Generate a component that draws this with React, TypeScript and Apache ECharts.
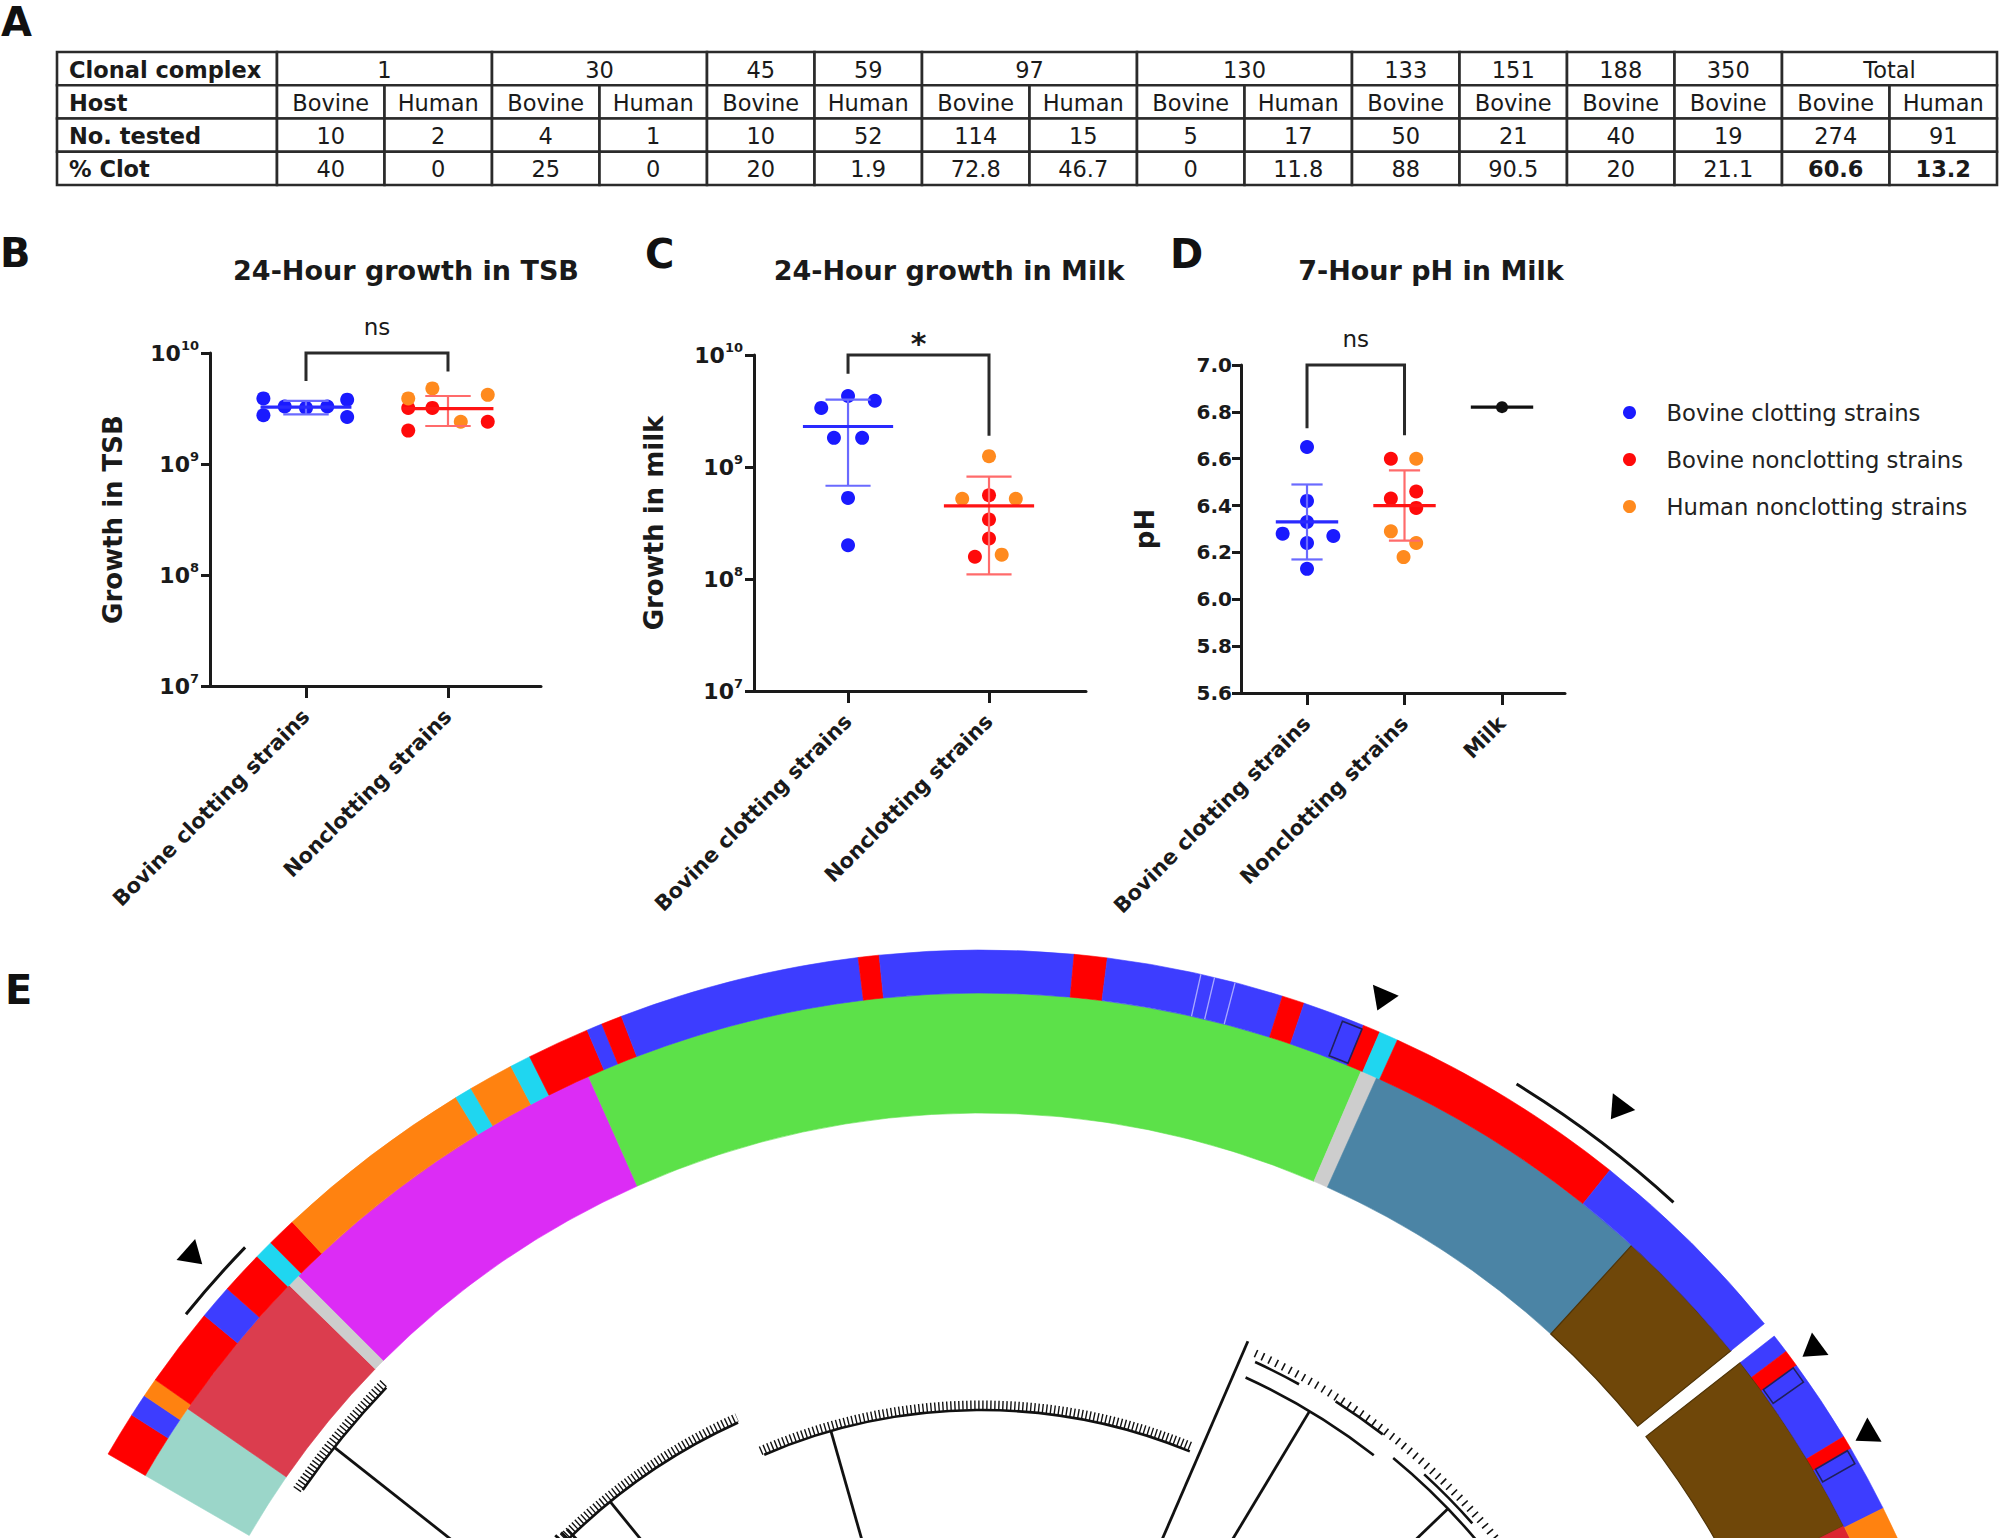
import React, { useEffect, useRef } from 'react';
import * as echarts from 'echarts';

const FONT = 'DejaVu Sans';
const INK = '#1a1a1a';

// ---------------- Panel A: table ----------------
const tableRowLabels = ['Clonal complex', 'Host', 'No. tested', '% Clot'];
const clonalComplexes = ['1', '30', '45', '59', '97', '130', '133', '151', '188', '350', 'Total'];
const clonalComplexSpans = [2, 2, 1, 1, 2, 2, 1, 1, 1, 1, 2];
const hosts = ['Bovine', 'Human', 'Bovine', 'Human', 'Bovine', 'Human', 'Bovine', 'Human', 'Bovine', 'Human', 'Bovine', 'Bovine', 'Bovine', 'Bovine', 'Bovine', 'Human'];
const numberTested = [10, 2, 4, 1, 10, 52, 114, 15, 5, 17, 50, 21, 40, 19, 274, 91];
const percentClot = [40, 0, 25, 0, 20, 1.9, 72.8, 46.7, 0, 11.8, 88, 90.5, 20, 21.1, 60.6, 13.2];
const boldClotColumns = [14, 15];

// ---------------- Panels B-D ----------------
const groupNames = ['Bovine clotting strains', 'Bovine nonclotting strains', 'Human nonclotting strains'];
const strainCategories = ['Bovine clotting strains', 'Nonclotting strains'];
const phCategories = ['Bovine clotting strains', 'Nonclotting strains', 'Milk'];
const panelTitles = ['24-Hour growth in TSB', '24-Hour growth in Milk', '7-Hour pH in Milk'];
const yAxisNames = ['Growth in TSB', 'Growth in milk', 'pH'];

// B: 24-h growth in TSB
const tsbClottingX = [0.70, 0.70, 0.85, 1.0, 1.15, 1.29, 1.29];
const tsbClotting = [3.9e9, 2.75e9, 3.3e9, 3.2e9, 3.3e9, 3.8e9, 2.65e9];
const tsbBovineNonX = [1.72, 1.72, 1.89, 2.28];
const tsbBovineNon = [3.2e9, 2.0e9, 3.2e9, 2.4e9];
const tsbHumanNonX = [1.72, 1.89, 2.09, 2.28];
const tsbHumanNon = [3.9e9, 4.8e9, 2.4e9, 4.2e9];
const tsbMean = [3.25e9, 3.15e9];
const tsbLow = [2.8e9, 2.2e9];
const tsbHigh = [3.7e9, 4.1e9];

// C: 24-h growth in milk
const milkClottingX = [0.81, 1.0, 1.19, 0.90, 1.10, 1.0, 1.0];
const milkClotting = [3.37e9, 4.3e9, 3.9e9, 1.82e9, 1.82e9, 5.3e8, 2.0e8];
const milkBovineNonX = [2.0, 2.0, 2.0, 1.90];
const milkBovineNon = [5.6e8, 3.4e8, 2.3e8, 1.58e8];
const milkHumanNonX = [2.0, 1.81, 2.19, 2.09];
const milkHumanNon = [1.25e9, 5.2e8, 5.2e8, 1.65e8];
const milkMean = [2.3e9, 4.5e8];
const milkLow = [6.8e8, 1.1e8];
const milkHigh = [4.0e9, 8.2e8];

// D: 7-h pH in milk
const phClottingX = [1.0, 1.0, 0.75, 1.27, 1.0, 1.0, 1.0];
const phClotting = [6.65, 6.42, 6.28, 6.27, 6.33, 6.24, 6.13];
const phBovineNonX = [1.86, 1.86, 2.12, 2.12];
const phBovineNon = [6.60, 6.43, 6.46, 6.39];
const phHumanNonX = [2.12, 1.86, 2.12, 1.99];
const phHumanNon = [6.60, 6.29, 6.24, 6.18];
const phMilk = [6.82];
const phMean = [6.33, 6.40, 6.82];
const phLow = [6.17, 6.25, 6.82];
const phHigh = [6.49, 6.55, 6.82];

// significance brackets: [x1, top, x2, leftEnd, rightEnd]
const tsbBracket = [1, 1e10, 2, 5.6e9, 6.8e9];
const milkBracket = [1, 9.98e9, 2, 6.8e9, 1.9e9];
const phBracket = [1, 7.0, 2, 6.73, 6.70];
const bracketLabels = ['ns', '*', 'ns'];

// ---------------- Panel E: phylogeny ring ----------------
const cladeBoundaries = [150, 145.3, 135.8, 135.0, 114.0, 66.8, 65.8, 47.6, 39.0, 38.1, 26.6, 10];
const cladeIds = ['L1', 'L2', 'NA', 'L3', 'L4', 'NA', 'L5', 'L6', 'gap', 'L6', 'L7'];
const phenotypeBoundaries = [150, 147.4, 146.1, 145.0, 140.4, 138.4, 135.9, 134.8, 133.1, 121.4, 120.4, 117.8, 116.6, 113.0, 112.1, 110.9, 97.0, 95.8, 84.7, 82.8, 72.6, 71.3, 67.7, 66.7, 65.6, 51.4, 39.0, 38.1, 37.0, 36.0, 31.15, 30.35, 26.5, 10];
const phenotypes = ['BN', 'BC', 'HN', 'BN', 'BC', 'BN', 'HC', 'BN', 'HN', 'HC', 'HN', 'HC', 'BN', 'BC', 'BN', 'BC', 'BN', 'BC', 'BN', 'BC', 'BN', 'BC', 'BN', 'HC', 'BN', 'BC', 'gap', 'BC', 'BN', 'BC', 'BN', 'BC', 'HN'];
const phenotypeFaintLines = [77.4, 76.6, 75.4];
const outlinedCellStart = [68.9, 36.0, 30.35];
const outlinedCellEnd = [67.7, 35.0, 29.5];
const markerRadius = [1054, 1038, 1060, 1029, 1027];
const markerAngle = [138.3, 67.3, 53.1, 36.2, 30.6];
const markedArcStart = [141.0, 58.5];
const markedArcEnd = [136.0, 47.5];
const treeBranchAngles = [141.7, 135.2, 134.6, 134.0, 129.1, 105.9, 66.6, 59.0, 43.9];
const treeBranchTips = [824, 600, 598, 596, 588, 548, 672, 638, 648];
const treeLinkRadius = [824, 588, 548, 638, 648, 656, 660, 656];
const treeLinkStart = [145.4, 135.6, 113.3, 65.5, 50.5, 65.3, 57.5, 47.5];
const treeLinkEnd = [136.2, 114.4, 67.6, 52.0, 36.0, 61.0, 52.5, 41.5];
const treeLeafRadius = [829, 593, 553];
const treeLeafStart = [145.6, 135.6, 113.5];
const treeLeafEnd = [136.0, 114.3, 67.5];
const treeSparseLeafRadius = [664];
const treeSparseLeafStart = [65.6];
const treeSparseLeafEnd = [36.0];

// ---------------- styles ----------------
const GROUP_COLORS = ['#1a1aff', '#ff0a0a', '#ff8a1e'];
const MEAN_COLORS = ['#2a2aff', '#ff1414', '#111111'];
const SD_COLORS = ['#6a6aff', '#ff6b6b', '#111111'];
const CLADE_COLORS: Record<string, string> = {
  L1: '#9bd6c9', L2: '#db3d4e', NA: '#cdcdcd', L3: '#dc2cf5', L4: '#5ce149',
  L5: '#4b84a5', L6: '#6f4709', L7: '#dc2630',
};
const PHENO_COLORS: Record<string, string> = { BN: '#ff0000', BC: '#3d3dff', HN: '#ff8210', HC: '#1fd6f0' };
const INNER_R0 = 845;
const INNER_R1 = 965;
const OUTER_R1 = 1008;
const TREE_BASE_R = 250;

function buildOption() {
  // ---- table cells
  const LABEL_COL = -220 / 107.5;
  const cells: any[] = [];
  tableRowLabels.forEach((t, r) => cells.push({ x0: LABEL_COL, x1: 0, row: r, text: t, bold: true, left: true }));
  let c = 0;
  clonalComplexes.forEach((cc, i) => {
    cells.push({ x0: c, x1: c + clonalComplexSpans[i], row: 0, text: cc });
    c += clonalComplexSpans[i];
  });
  hosts.forEach((h, i) => cells.push({ x0: i, x1: i + 1, row: 1, text: h }));
  numberTested.forEach((n, i) => cells.push({ x0: i, x1: i + 1, row: 2, text: String(n) }));
  percentClot.forEach((p, i) => cells.push({ x0: i, x1: i + 1, row: 3, text: String(p), bold: boldClotColumns.includes(i) }));

  const tableSeries = {
    type: 'custom', xAxisIndex: 0, yAxisIndex: 0, silent: true,
    data: cells.map((cl) => [cl.x0, cl.row, cl.x1]),
    renderItem: (params: any, api: any) => {
      const cl = cells[params.dataIndex];
      const p0 = api.coord([cl.x0, cl.row]);
      const p1 = api.coord([cl.x1, cl.row + 1]);
      return {
        type: 'group',
        children: [
          { type: 'rect', shape: { x: p0[0], y: p0[1], width: p1[0] - p0[0], height: p1[1] - p0[1] }, style: { fill: '#fff', stroke: '#2b2b2b', lineWidth: 2.6 } },
          {
            type: 'text', x: cl.left ? p0[0] + 12 : (p0[0] + p1[0]) / 2, y: (p0[1] + p1[1]) / 2 + 1,
            style: { text: cl.text, fill: INK, fontSize: 22.5, fontWeight: cl.bold ? 'bold' : 'normal', fontFamily: FONT, align: cl.left ? 'left' : 'center', verticalAlign: 'middle' },
          },
        ],
      };
    },
  };

  // ---- panels
  const gridsLayout = [
    { left: 210, top: 353, width: 331, height: 333, xmin: 0.324, xmax: 2.655 },
    { left: 754, top: 355, width: 332, height: 336, xmin: 0.333, xmax: 2.688 },
    { left: 1241, top: 365, width: 324, height: 328, xmin: 0.323, xmax: 3.646 },
  ];
  const grids: any[] = [{ left: 57, top: 52, width: 1940, height: 133, outerBoundsMode: 'none' }];
  const xAxes: any[] = [{ gridIndex: 0, type: 'value', min: LABEL_COL, max: 16, show: false }];
  const yAxes: any[] = [{ gridIndex: 0, type: 'value', min: 0, max: 4, inverse: true, show: false }];
  const nameGaps = [84, 87, 83];
  gridsLayout.forEach((g, i) => {
    grids.push({ left: g.left, top: g.top, width: g.width, height: g.height, outerBoundsMode: 'none' });
    const cats = i === 2 ? phCategories : strainCategories;
    xAxes.push({
      gridIndex: i + 1, type: 'value', min: g.xmin, max: g.xmax, splitLine: { show: false },
      axisLine: { show: true, onZero: false, lineStyle: { color: INK, width: 3 } },
      axisTick: { show: true, customValues: cats.map((_, k) => k + 1), length: 12, lineStyle: { color: INK, width: 3 } },
      axisLabel: {
        customValues: cats.map((_, k) => k + 1), formatter: (v: number) => cats[Math.round(v) - 1] || '',
        rotate: 45, margin: 27, fontSize: 21, fontWeight: 'bold', fontFamily: FONT, color: INK,
      },
      minorTick: { show: false },
    });
    const common = {
      gridIndex: i + 1, splitLine: { show: false },
      axisLine: { show: true, onZero: false, lineStyle: { color: INK, width: 3 } },
      axisTick: { show: true, length: 9, lineStyle: { color: INK, width: 3 } },
      name: yAxisNames[i], nameLocation: 'middle', nameGap: nameGaps[i],
      nameTextStyle: { fontSize: 26, fontWeight: 'bold', fontFamily: FONT, color: INK },
    };
    if (i < 2) {
      yAxes.push({
        ...common, type: 'log', logBase: 10, min: 1e7, max: 1e10,
        axisLabel: {
          margin: 11,
          formatter: (v: number) => `{b|10}{s|${Math.round(Math.log10(v))}}`,
          rich: {
            b: { fontSize: 22, fontWeight: 'bold', fontFamily: FONT, color: INK, lineHeight: 28 },
            s: { fontSize: 13, fontWeight: 'bold', fontFamily: FONT, color: INK, verticalAlign: 'top', lineHeight: 28 },
          },
        },
      });
    } else {
      yAxes.push({
        ...common, type: 'value', min: 5.6, max: 7.0, interval: 0.2,
        axisLabel: { margin: 9, formatter: (v: number) => v.toFixed(1), fontSize: 20, fontWeight: 'bold', fontFamily: FONT, color: INK },
      });
    }
  });

  const pointSeries = (name: string, xs: number[], ys: number[], idx: number, color: string, size = 14) => ({
    type: 'scatter', name, xAxisIndex: idx, yAxisIndex: idx, silent: true, z: 3,
    data: xs.map((x, k) => [x, ys[k]]), symbol: 'circle', symbolSize: size,
    itemStyle: { color, opacity: 1 },
  });

  const errorBarSeries = (idx: number, means: number[], lows: number[], highs: number[]) => ({
    type: 'custom', xAxisIndex: idx, yAxisIndex: idx, silent: true, z: 4,
    data: means.map((m, k) => [k + 1, m, lows[k], highs[k], k]),
    renderItem: (params: any, api: any) => {
      const x = api.value(0), m = api.value(1), lo = api.value(2), hi = api.value(3), g = api.value(4);
      const MEAN_HALF = 0.32, CAP_HALF = 0.16;
      const children: any[] = [];
      if (hi > lo) {
        const sd = { stroke: SD_COLORS[g], lineWidth: 2.2 };
        const pl = api.coord([x, lo]), ph = api.coord([x, hi]);
        const c1 = api.coord([x - CAP_HALF, lo]), c2 = api.coord([x + CAP_HALF, lo]);
        const c3 = api.coord([x - CAP_HALF, hi]), c4 = api.coord([x + CAP_HALF, hi]);
        children.push({ type: 'line', shape: { x1: pl[0], y1: pl[1], x2: ph[0], y2: ph[1] }, style: sd });
        children.push({ type: 'line', shape: { x1: c1[0], y1: c1[1], x2: c2[0], y2: c2[1] }, style: sd });
        children.push({ type: 'line', shape: { x1: c3[0], y1: c3[1], x2: c4[0], y2: c4[1] }, style: sd });
      }
      const a = api.coord([x - MEAN_HALF, m]), b = api.coord([x + MEAN_HALF, m]);
      children.push({ type: 'line', shape: { x1: a[0], y1: a[1], x2: b[0], y2: b[1] }, style: { stroke: MEAN_COLORS[g], lineWidth: 3.2 } });
      return { type: 'group', children };
    },
  });

  const bracketSeries = (idx: number, br: number[], label: string) => ({
    type: 'custom', xAxisIndex: idx, yAxisIndex: idx, silent: true, z: 4,
    data: [br],
    renderItem: (params: any, api: any) => {
      const lt = api.coord([api.value(0), api.value(1)]);
      const rt = api.coord([api.value(2), api.value(1)]);
      const lb = api.coord([api.value(0), api.value(3)]);
      const rb = api.coord([api.value(2), api.value(4)]);
      const star = label === '*';
      return {
        type: 'group',
        children: [
          { type: 'polyline', shape: { points: [lb, lt, rt, rb] }, style: { stroke: '#2a2a2a', lineWidth: 3, fill: 'none' } },
          {
            type: 'text', x: (lt[0] + rt[0]) / 2, y: lt[1] - (star ? 12 : 26),
            style: { text: label, fill: INK, fontSize: star ? 30 : 23, fontWeight: star ? 'bold' : 'normal', fontFamily: FONT, align: 'center', verticalAlign: 'middle' },
          },
        ],
      };
    },
  });

  // ---- polar helpers
  const polarInfo = (params: any, api: any, r: number, a: number) => {
    const cs = params.coordSys;
    const p = api.coord([r, a]);
    return { cx: cs.cx, cy: cs.cy, R: Math.hypot(p[0] - cs.cx, p[1] - cs.cy), ang: Math.atan2(p[1] - cs.cy, p[0] - cs.cx), p };
  };
  const ringSeries = (bounds: number[], ids: string[], colors: Record<string, string>, r0: number, r1: number, outlined: string[]) => ({
    type: 'custom', coordinateSystem: 'polar', polarIndex: 0, silent: true, z: 2,
    data: ids.map((id, k) => [r0, bounds[k], r1, bounds[k + 1]]),
    renderItem: (params: any, api: any) => {
      const id = ids[params.dataIndex];
      if (id === 'gap') return { type: 'group', children: [] };
      const o1 = polarInfo(params, api, api.value(2), api.value(1));
      const o2 = polarInfo(params, api, api.value(2), api.value(3));
      const i1 = polarInfo(params, api, api.value(0), api.value(1));
      const col = colors[id];
      const dark = outlined.includes(id);
      return {
        type: 'sector',
        shape: { cx: o1.cx, cy: o1.cy, r0: i1.R, r: o1.R, startAngle: o1.ang, endAngle: o2.ang, clockwise: true },
        style: { fill: col, stroke: dark ? '#4e3205' : col, lineWidth: dark ? 1.2 : 0.6 },
      };
    },
  });

  const faintLineSeries = {
    type: 'custom', coordinateSystem: 'polar', polarIndex: 0, silent: true, z: 3,
    data: phenotypeFaintLines.map((a) => [INNER_R1, a, OUTER_R1]),
    renderItem: (params: any, api: any) => {
      const p = api.coord([api.value(0), api.value(1)]);
      const q = api.coord([api.value(2), api.value(1)]);
      return { type: 'line', shape: { x1: p[0], y1: p[1], x2: q[0], y2: q[1] }, style: { stroke: '#a9a9ff', lineWidth: 1.3 } };
    },
  };
  const outlinedCellSeries = {
    type: 'custom', coordinateSystem: 'polar', polarIndex: 0, silent: true, z: 3,
    data: outlinedCellStart.map((a, k) => [INNER_R1, a, OUTER_R1, outlinedCellEnd[k]]),
    renderItem: (params: any, api: any) => {
      const o1 = polarInfo(params, api, api.value(2) - 4, api.value(1));
      const o2 = polarInfo(params, api, api.value(2) - 4, api.value(3));
      const i1 = polarInfo(params, api, api.value(0) + 2, api.value(1));
      return {
        type: 'sector',
        shape: { cx: o1.cx, cy: o1.cy, r0: i1.R, r: o1.R, startAngle: o1.ang, endAngle: o2.ang, clockwise: true },
        style: { fill: 'none', stroke: '#20205a', lineWidth: 1.6 },
      };
    },
  };
  const arcSeries = (radii: number[], starts: number[], ends: number[], lineWidth: number, dash: number[] | null, z = 3) => ({
    type: 'custom', coordinateSystem: 'polar', polarIndex: 0, silent: true, z,
    data: radii.map((r, k) => [r, starts[k], ends[k]]),
    renderItem: (params: any, api: any) => {
      const a = polarInfo(params, api, api.value(0), api.value(1));
      const b = polarInfo(params, api, api.value(0), api.value(2));
      return {
        type: 'arc',
        shape: { cx: a.cx, cy: a.cy, r: a.R, startAngle: a.ang, endAngle: b.ang, clockwise: true },
        style: { stroke: '#111', lineWidth, fill: 'none', lineDash: dash || undefined },
      };
    },
  });
  const branchSeries = {
    type: 'custom', coordinateSystem: 'polar', polarIndex: 0, silent: true, z: 3,
    data: treeBranchAngles.map((a, k) => [TREE_BASE_R, a, treeBranchTips[k]]),
    renderItem: (params: any, api: any) => {
      const p = api.coord([api.value(0), api.value(1)]);
      const q = api.coord([api.value(2), api.value(1)]);
      return { type: 'line', shape: { x1: p[0], y1: p[1], x2: q[0], y2: q[1] }, style: { stroke: '#111', lineWidth: 2.8 } };
    },
  };
  const markerSeries = {
    type: 'scatter', coordinateSystem: 'polar', polarIndex: 0, silent: true, z: 5,
    symbol: 'triangle', symbolSize: [28, 22],
    data: markerRadius.map((r, k) => ({ value: [r, markerAngle[k]], symbolRotate: markerAngle[k] + 90 })),
    itemStyle: { color: '#000', opacity: 1 },
  };

  const series: any[] = [
    tableSeries,
    pointSeries(groupNames[0], tsbClottingX, tsbClotting, 1, GROUP_COLORS[0]),
    pointSeries(groupNames[1], tsbBovineNonX, tsbBovineNon, 1, GROUP_COLORS[1]),
    pointSeries(groupNames[2], tsbHumanNonX, tsbHumanNon, 1, GROUP_COLORS[2]),
    errorBarSeries(1, tsbMean, tsbLow, tsbHigh),
    bracketSeries(1, tsbBracket, bracketLabels[0]),
    pointSeries(groupNames[0], milkClottingX, milkClotting, 2, GROUP_COLORS[0]),
    pointSeries(groupNames[1], milkBovineNonX, milkBovineNon, 2, GROUP_COLORS[1]),
    pointSeries(groupNames[2], milkHumanNonX, milkHumanNon, 2, GROUP_COLORS[2]),
    errorBarSeries(2, milkMean, milkLow, milkHigh),
    bracketSeries(2, milkBracket, bracketLabels[1]),
    pointSeries(groupNames[0], phClottingX, phClotting, 3, GROUP_COLORS[0]),
    pointSeries(groupNames[1], phBovineNonX, phBovineNon, 3, GROUP_COLORS[1]),
    pointSeries(groupNames[2], phHumanNonX, phHumanNon, 3, GROUP_COLORS[2]),
    pointSeries('Milk', [3], phMilk, 3, '#111', 12),
    errorBarSeries(3, phMean, phLow, phHigh),
    bracketSeries(3, phBracket, bracketLabels[2]),
    ringSeries(cladeBoundaries, cladeIds, CLADE_COLORS, INNER_R0, INNER_R1, ['L6']),
    ringSeries(phenotypeBoundaries, phenotypes, PHENO_COLORS, INNER_R1, OUTER_R1, []),
    faintLineSeries,
    outlinedCellSeries,
    arcSeries([1023, 1025], markedArcStart, markedArcEnd, 3, null),
    markerSeries,
    branchSeries,
    arcSeries(treeLinkRadius, treeLinkStart, treeLinkEnd, 2.6, null),
    arcSeries(treeLeafRadius, treeLeafStart, treeLeafEnd, 9, [1.4, 2.6]),
    arcSeries(treeSparseLeafRadius, treeSparseLeafStart, treeSparseLeafEnd, 8, [1.6, 6]),
  ];

  const letter = (t: string, x: number, y: number) => ({
    type: 'text', x, y, silent: true,
    style: { text: t, fill: '#111', fontSize: 40, fontWeight: 'bold', fontFamily: FONT, align: 'left', verticalAlign: 'middle' },
  });
  const title = (t: string, x: number, y: number) => ({
    type: 'text', x, y, silent: true,
    style: { text: t, fill: INK, fontSize: 27, fontWeight: 'bold', fontFamily: FONT, align: 'center', verticalAlign: 'middle' },
  });

  return {
    animation: false,
    backgroundColor: '#ffffff',
    textStyle: { fontFamily: FONT },
    grid: grids,
    xAxis: xAxes,
    yAxis: yAxes,
    polar: { center: [981, 1958], radius: 1100 },
    radiusAxis: { type: 'value', min: 0, max: 1100, show: false, axisLine: { show: false }, axisTick: { show: false }, axisLabel: { show: false }, splitLine: { show: false } },
    angleAxis: { type: 'value', min: 0, max: 360, startAngle: 0, clockwise: false, show: false, axisLine: { show: false }, axisTick: { show: false }, axisLabel: { show: false }, splitLine: { show: false } },
    legend: {
      data: groupNames, orient: 'vertical', left: 1623, top: 401, itemWidth: 64, itemHeight: 13, itemGap: 24,
      icon: 'circle', selectedMode: false, padding: 0,
      textStyle: { fontSize: 22.7, color: '#222', fontFamily: FONT },
    },
    graphic: [
      letter('A', 1, 22), letter('B', 0, 253), letter('C', 645, 254), letter('D', 1170, 254), letter('E', 5, 990),
      title(panelTitles[0], 406, 270), title(panelTitles[1], 949, 270), title(panelTitles[2], 1431, 270),
    ],
    series,
  };
}

export default function App() {
  const ref = useRef<HTMLDivElement>(null);
  useEffect(() => {
    const chart = echarts.init(ref.current as HTMLDivElement, null, { renderer: 'svg' });
    chart.setOption(buildOption() as any);
    return () => chart.dispose();
  }, []);
  return <div ref={ref} style={{ position: 'absolute', left: 0, top: 0, width: 2000, height: 1538, background: '#fff' }} />;
}
